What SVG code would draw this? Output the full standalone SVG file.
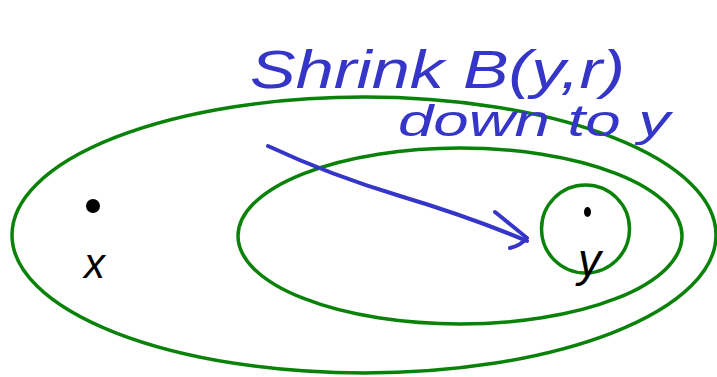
<svg xmlns="http://www.w3.org/2000/svg" width="717" height="377" viewBox="0 0 717 377">
<style>
.ring{fill:none;stroke:#0a820a;stroke-width:3.5}
.ink{fill:none;stroke:#3535c8;stroke-width:4;stroke-linecap:round;stroke-linejoin:round}
.blue{fill:#3535c8;font-family:"Liberation Sans",sans-serif;font-style:italic}
.blk{fill:#000;font-family:"Liberation Sans",sans-serif;font-style:italic}
</style>
<rect width="717" height="377" fill="#fff"/>
<g id="outer-set"><ellipse class="ring" cx="364" cy="235" rx="352" ry="138"/></g>
<g id="middle-set"><ellipse class="ring" cx="460" cy="236" rx="222" ry="88"/></g>
<g id="ball-y"><circle class="ring" cx="585.5" cy="229" r="44"/></g>
<g id="point-x">
<circle cx="93" cy="206" r="6" fill="#000" stroke="#000" stroke-width="2"/>
<text class="blk" x="84" y="278" font-size="42">x</text>
</g>
<g id="point-y">
<ellipse cx="587.5" cy="212" rx="3.5" ry="5" fill="#000"/>
<text class="blk" x="578" y="276" font-size="46">y</text>
</g>
<g id="connectors">
<path class="ink" d="M268,146 Q330,175 400,196 T527,241"/>
<path class="ink" d="M495,212 Q515,228 527,238 Q520,246 510,248"/>
</g>
<g id="labels">
<text class="blue" x="250" y="88" font-size="54" textLength="375" lengthAdjust="spacingAndGlyphs">Shrink B(y,r)</text>
<text class="blue" x="398" y="136" font-size="44" textLength="272" lengthAdjust="spacingAndGlyphs">down to y</text>
</g>
</svg>
